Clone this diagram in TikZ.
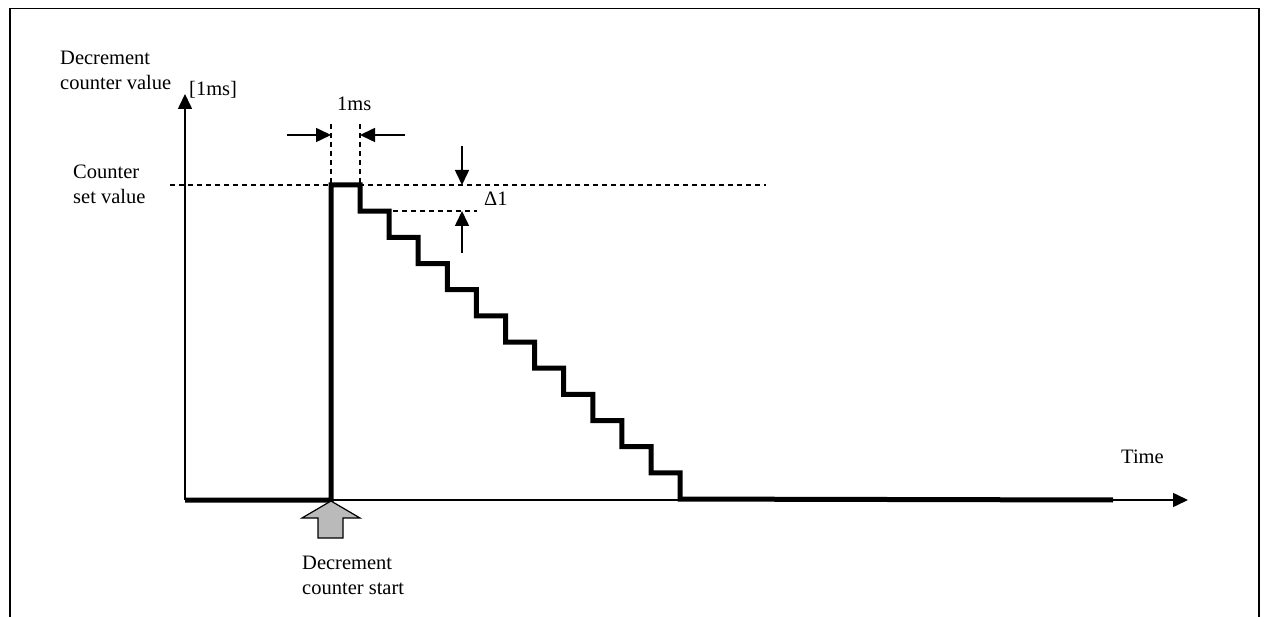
\documentclass[tikz,border=0pt]{standalone}
\usepackage{fontspec}
\setmainfont{Liberation Serif}
\usetikzlibrary{arrows.meta}
\begin{document}
\begin{tikzpicture}[x=1pt,y=-1pt,
  lbl/.style={font=\fontsize{20.5}{25}\selectfont, inner sep=0pt, align=left},
  thin/.style={line width=1.6pt},
  thick2/.style={line width=5pt, line join=miter},
  dsh/.style={line width=1.4pt, dash pattern=on 5pt off 4pt},
  arr/.style={thin, -{Triangle[length=15pt,width=14pt]}},
  bigarrow/.style={draw=black, line width=1.2pt, fill=black!27}]
\useasboundingbox (0,0) rectangle (1264,617);
\draw[line width=1.5pt] (10,617) -- (10,8.5) -- (1259,8.5) -- (1259,617);
% axes
\coordinate (O) at (185,500);
\coordinate (ytip) at (185,94);
\coordinate (xtip) at (1188,500);
\draw[arr] (O) -- (ytip);
\draw[arr] (O) -- (xtip);
% dashed guides
\draw[dsh] (170,185) -- (766,185);
\draw[dsh] (331,124) -- (331,185);
\draw[dsh] (360,124) -- (360,185);
\draw[dsh] (393,211) -- (477,211);
% waveform
\draw[thick2] (185,500) -- (331,500) -- (331,185)
  \foreach \i in {0,...,11} { -- ({360+\i*29.1},{185+\i*26.17}) -- ({360+\i*29.1},{185+(\i+1)*26.17}) }
  -- (1113,500);
% 1ms arrows
\coordinate (a1) at (287,135); \coordinate (a1e) at (331,135);
\coordinate (a2) at (405,135); \coordinate (a2e) at (360,135);
\draw[arr] (a1) -- (a1e);
\draw[arr] (a2) -- (a2e);
% delta arrows
\coordinate (d1) at (462,146); \coordinate (d1e) at (462,185);
\coordinate (d2) at (462,253); \coordinate (d2e) at (462,211);
\draw[arr] (d1) -- (d1e);
\draw[arr] (d2) -- (d2e);
% start arrow
\draw[bigarrow] (331,501) -- (360,518) -- (343,518) -- (343,538) -- (318,538) -- (318,518) -- (302,518) -- cycle;
% labels
\node[lbl, anchor=west] (ylab) at (60,70) {Decrement\\counter value};
\node[lbl, anchor=west] (unit) at (189,90) {[1ms]};
\node[lbl, anchor=west] (csv) at (73,184) {Counter\\set value};
\node[lbl, anchor=west] (ms) at (337,104) {1ms};
\node[lbl, anchor=west] (dl) at (484,199) {Δ1};
\node[lbl, anchor=west] (tm) at (1121,457) {Time};
\node[lbl, anchor=west] (st) at (302,575) {Decrement\\counter start};
\end{tikzpicture}
\end{document}
